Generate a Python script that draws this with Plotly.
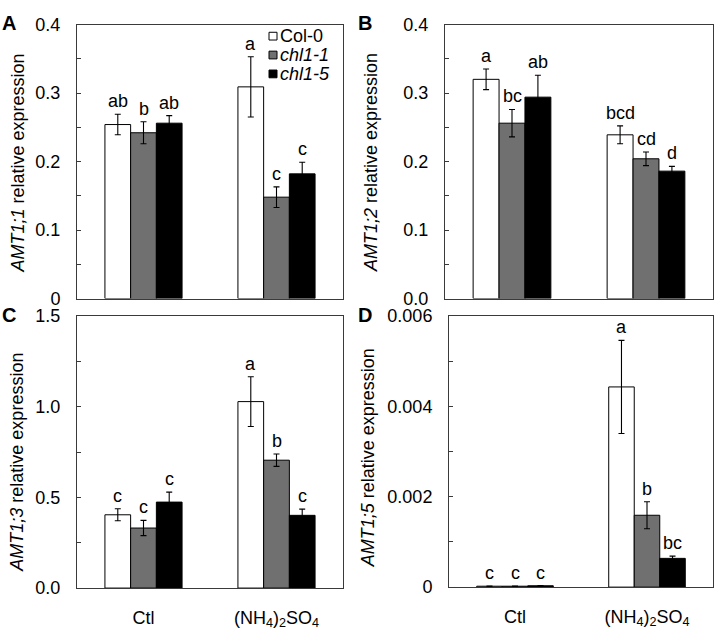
import plotly.graph_objects as go

# ---------------- data ----------------
categories = ["Ctl", "(NH<sub>4</sub>)<sub>2</sub>SO<sub>4</sub>"]
genotypes = ["Col-0", "<i>chl1-1</i>", "<i>chl1-5</i>"]
colors = ["#ffffff", "#707070", "#000000"]

# Panel A: AMT1;1
a_col0 = [0.254, 0.309]
a_col0_err = [0.015, 0.044]
a_chl11 = [0.242, 0.148]
a_chl11_err = [0.016, 0.015]
a_chl15 = [0.256, 0.182]
a_chl15_err = [0.011, 0.017]
a_letters = [["ab", "a"], ["b", "c"], ["ab", "c"]]

# Panel B: AMT1;2
b_col0 = [0.320, 0.239]
b_col0_err = [0.015, 0.013]
b_chl11 = [0.256, 0.204]
b_chl11_err = [0.020, 0.010]
b_chl15 = [0.294, 0.186]
b_chl15_err = [0.032, 0.007]
b_letters = [["a", "bcd"], ["bc", "cd"], ["ab", "d"]]

# Panel C: AMT1;3
c_col0 = [0.404, 1.028]
c_col0_err = [0.033, 0.137]
c_chl11 = [0.331, 0.705]
c_chl11_err = [0.042, 0.034]
c_chl15 = [0.474, 0.401]
c_chl15_err = [0.055, 0.034]
c_letters = [["c", "a"], ["c", "b"], ["c", "c"]]

# Panel D: AMT1;5
d_col0 = [0.00002, 0.00443]
d_col0_err = [0.000005, 0.00103]
d_chl11 = [0.00002, 0.00159]
d_chl11_err = [0.000005, 0.00030]
d_chl15 = [0.00003, 0.000636]
d_chl15_err = [0.000005, 0.00005]
d_letters = [["c", "a"], ["c", "b"], ["c", "bc"]]

a_ticks = [0, 0.1, 0.2, 0.3, 0.4]
a_ticktext = ["0", "0.1", "0.2", "0.3", "0.4"]
b_ticks = [0, 0.1, 0.2, 0.3, 0.4]
b_ticktext = ["0.0", "0.1", "0.2", "0.3", "0.4"]
c_ticks = [0, 0.5, 1.0, 1.5]
c_ticktext = ["0.0", "0.5", "1.0", "1.5"]
d_ticks = [0, 0.002, 0.004, 0.006]
d_ticktext = ["0", "0.002", "0.004", "0.006"]

y_titles = ["<i>AMT1;1</i> relative expression", "<i>AMT1;2</i> relative expression",
            "<i>AMT1;3</i> relative expression", "<i>AMT1;5</i> relative expression"]
panel_labels = ["A", "B", "C", "D"]

panels = [
    dict(vals=[a_col0, a_chl11, a_chl15], errs=[a_col0_err, a_chl11_err, a_chl15_err],
         letters=a_letters, ticks=a_ticks, ticktext=a_ticktext, rng=[0, 0.4], minor=0.05),
    dict(vals=[b_col0, b_chl11, b_chl15], errs=[b_col0_err, b_chl11_err, b_chl15_err],
         letters=b_letters, ticks=b_ticks, ticktext=b_ticktext, rng=[0, 0.4], minor=0.05),
    dict(vals=[c_col0, c_chl11, c_chl15], errs=[c_col0_err, c_chl11_err, c_chl15_err],
         letters=c_letters, ticks=c_ticks, ticktext=c_ticktext, rng=[0, 1.5], minor=0.25),
    dict(vals=[d_col0, d_chl11, d_chl15], errs=[d_col0_err, d_chl11_err, d_chl15_err],
         letters=d_letters, ticks=d_ticks, ticktext=d_ticktext, rng=[0, 0.006], minor=0.001),
]

# ---------------- layout geometry (pixels) ----------------
W, H = 716, 631
FONT = "Liberation Sans, Arial, sans-serif"
FRAME = "#3a3a3a"
# frames: (left, right, top, bottom) in px
frames = [(77, 343, 15, 298), (445, 713, 15, 298), (77, 343, 316, 597), (449, 713, 316, 596)]
ytitle_pos = [(17.5, 158), (371, 158), (17.5, 467), (368, 463)]
label_pos = [(9, 13), (365, 13), (9, 315), (365, 315)]
legend_rows = [27, 46.5, 66]     # px, row centres of the key in panel A
legend_sq = (269, 277)           # px, key square left/right
bargap = 0.42
bw = (1 - bargap) / 3

fig = go.Figure()
x_idx = list(range(len(categories)))

for p, pan in enumerate(panels):
    sfx = "" if p == 0 else str(p + 1)
    for g in range(3):
        fig.add_trace(go.Bar(
            x=x_idx, y=pan["vals"][g], name=genotypes[g],
            xaxis="x" + sfx, yaxis="y" + sfx,
            marker=dict(color=colors[g], line=dict(color="#000000", width=1)),
            error_y=dict(type="data", array=pan["errs"][g], visible=True,
                         color="#000000", thickness=1.1, width=3),
            legendgroup=genotypes[g], showlegend=False,
            offsetgroup=str(g),
        ))
        for i in x_idx:
            fig.add_annotation(
                x=i + (g - 1) * bw, y=pan["vals"][g][i] + pan["errs"][g][i],
                xref="x" + sfx, yref="y" + sfx, text=pan["letters"][g][i],
                showarrow=False, yanchor="bottom", yshift=1,
                font=dict(size=18, color="#000000", family=FONT))

    l, r, t, b = frames[p]
    xd = [l / W, r / W]
    yd = [1 - b / H, 1 - t / H]
    bottom_row = p >= 2
    fig.update_layout(**{
        "xaxis" + sfx: dict(
            domain=xd, range=[-0.5, 1.5], anchor="y" + sfx,
            tickvals=x_idx, ticktext=categories, showticklabels=bottom_row,
            ticks="", showline=True, linecolor=FRAME, linewidth=1, mirror=True,
            showgrid=False, zeroline=False, fixedrange=True,
            ticklabelstandoff=13,
            tickfont=dict(size=18, color="#000000", family=FONT),
        ),
        "yaxis" + sfx: dict(
            domain=yd, range=pan["rng"], anchor="x" + sfx,
            tickvals=pan["ticks"], ticktext=pan["ticktext"],
            ticks="inside", ticklen=4, tickcolor=FRAME, tickwidth=1,
            minor=dict(dtick=pan["minor"], tick0=0, ticks="inside", ticklen=4,
                       tickcolor=FRAME, tickwidth=1, showgrid=False),
            ticklabelstandoff=12,
            showline=True, linecolor=FRAME, linewidth=1, mirror=True,
            showgrid=False, zeroline=False, fixedrange=True,
            tickfont=dict(size=18, color="#000000", family=FONT),
        ),
    })
    # y-axis title
    tx, ty = ytitle_pos[p]
    fig.add_annotation(x=tx / W, y=1 - ty / H, xref="paper", yref="paper",
                       text=y_titles[p], textangle=-90, showarrow=False,
                       xanchor="center", yanchor="middle",
                       font=dict(size=18, color="#000000", family=FONT))
    # panel label
    lx, ly = label_pos[p]
    fig.add_annotation(x=lx / W, y=1 - ly / H, xref="paper", yref="paper",
                       text="<b>" + panel_labels[p] + "</b>", showarrow=False,
                       xanchor="center", yanchor="middle",
                       font=dict(size=20, color="#000000", family=FONT))

# key (legend) inside panel A: square swatch + label per genotype
for g in range(3):
    yc = legend_rows[g]
    fig.add_shape(type="rect", xref="paper", yref="paper",
                  x0=legend_sq[0] / W, x1=legend_sq[1] / W,
                  y0=1 - (yc + 4) / H, y1=1 - (yc - 4) / H,
                  fillcolor=colors[g], line=dict(color="#000000", width=1))
    fig.add_annotation(x=(legend_sq[1] + 1) / W, y=1 - yc / H, xref="paper", yref="paper",
                       text=genotypes[g], showarrow=False,
                       xanchor="left", yanchor="middle",
                       font=dict(size=18, color="#000000", family=FONT))

fig.update_layout(
    width=W, height=H, margin=dict(l=0, r=0, t=0, b=0),
    paper_bgcolor="#ffffff", plot_bgcolor="#ffffff",
    barmode="group", bargap=bargap, bargroupgap=0,
    font=dict(family=FONT, size=18, color="#000000"),
    showlegend=False,
)

fig.write_html(
    "out.html",
    config={"displayModeBar": False},
    post_script="document.documentElement.style.margin='0';"
                "document.body.style.margin='0';document.body.style.padding='0';",
)
